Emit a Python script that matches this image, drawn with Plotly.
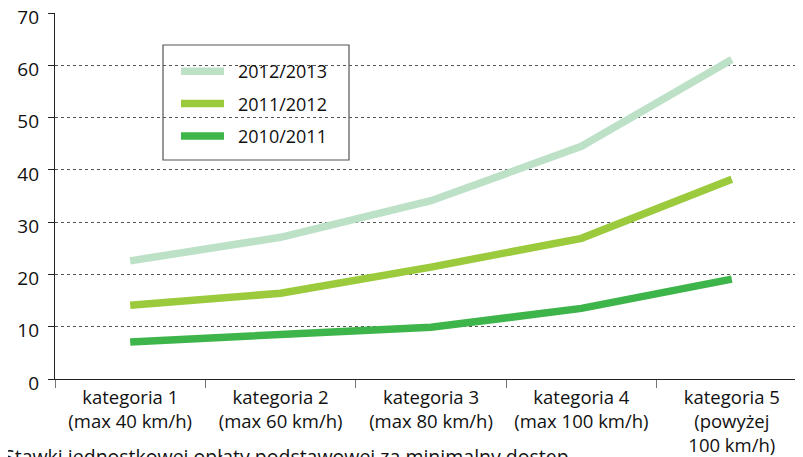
import plotly.graph_objects as go

categories = [
    "kategoria 1<br>(max 40 km/h)",
    "kategoria 2<br>(max 60 km/h)",
    "kategoria 3<br>(max 80 km/h)",
    "kategoria 4<br>(max 100 km/h)",
    "kategoria 5<br>(powyżej<br>100 km/h)",
]
series_names = ["2012/2013", "2011/2012", "2010/2011"]
s2012_2013 = [22.6, 27.1, 34.1, 44.5, 61.1]
s2011_2012 = [14.1, 16.4, 21.4, 26.9, 38.2]
s2010_2011 = [7.1, 8.5, 9.9, 13.5, 19.1]
colors = ["#BDE1C7", "#9BCA3C", "#3EB54A"]
y_ticks = [0, 10, 20, 30, 40, 50, 60, 70]
footer = "Stawki jednostkowej opłaty podstawowej za minimalny dostęp"

FONT = "Open Sans"

fig = go.Figure()
for i, (name, vals) in enumerate(zip(series_names, [s2012_2013, s2011_2012, s2010_2011])):
    fig.add_trace(go.Scatter(
        x=categories, y=vals, name="\u2002" + name, mode="lines",
        line=dict(color=colors[i], width=7.5),
        legendgroup=name,
    ))

# page body has an 8px margin; figure is sized so the plot sits where the reference has it
O = 8
W, H = 803 - O, 457 - O
L, R, T, B = 55 - O, 0, 13 - O, 78
pw = W - L - R
ph = H - T - B


def px(xs):  # screen x -> paper
    return (xs - 55) / pw


def py(ys):  # screen y -> paper
    return 1 - (ys - 13) / ph


fig.update_layout(
    width=W, height=H,
    margin=dict(l=L, r=R, t=T, b=B, autoexpand=False),
    paper_bgcolor="white", plot_bgcolor="white",
    font=dict(family=FONT, color="#111", size=18),
    showlegend=True,
    legend=dict(
        x=px(176), y=py(53), xanchor="left", yanchor="top",
        bgcolor="rgba(0,0,0,0)", borderwidth=0,
        font=dict(family=FONT, size=18, color="#111"),
        itemwidth=43, tracegroupgap=6, traceorder="grouped",
    ),
    xaxis=dict(
        type="category", range=[-0.5, 4.5 - 4 / 150.4],
        showgrid=False, showline=True, linecolor="#222", linewidth=1.2,
        ticks="outside", ticklen=8, tickcolor="#777", tickwidth=1,
        tickson="boundaries", ticklabelstandoff=2,
        tickfont=dict(family=FONT, size=18.5, color="#111"),
        automargin=False,
    ),
    yaxis=dict(
        range=[0, 70], tickvals=y_ticks,
        showgrid=True, gridcolor="#555", griddash="dot", gridwidth=1,
        showline=True, linecolor="#222", linewidth=1.2,
        ticks="outside", ticklen=6, tickcolor="#222",
        ticklabelstandoff=5, ticklabeloverflow="allow", ticklabelshift=4,
        tickfont=dict(family=FONT, size=19, color="#111"),
        zeroline=False, automargin=False,
    ),
    shapes=[dict(
        type="rect", xref="paper", yref="paper",
        x0=px(163), x1=px(349), y0=py(160), y1=py(45),
        line=dict(color="#555", width=1.2), fillcolor="rgba(0,0,0,0)",
    )],
    annotations=[dict(
        text=footer,
        xref="paper", yref="paper", x=px(2), y=py(441),
        xanchor="left", yanchor="top", showarrow=False,
        font=dict(family=FONT, size=19.5, color="#111"),
    )],
)

fig.write_html("out.html")
